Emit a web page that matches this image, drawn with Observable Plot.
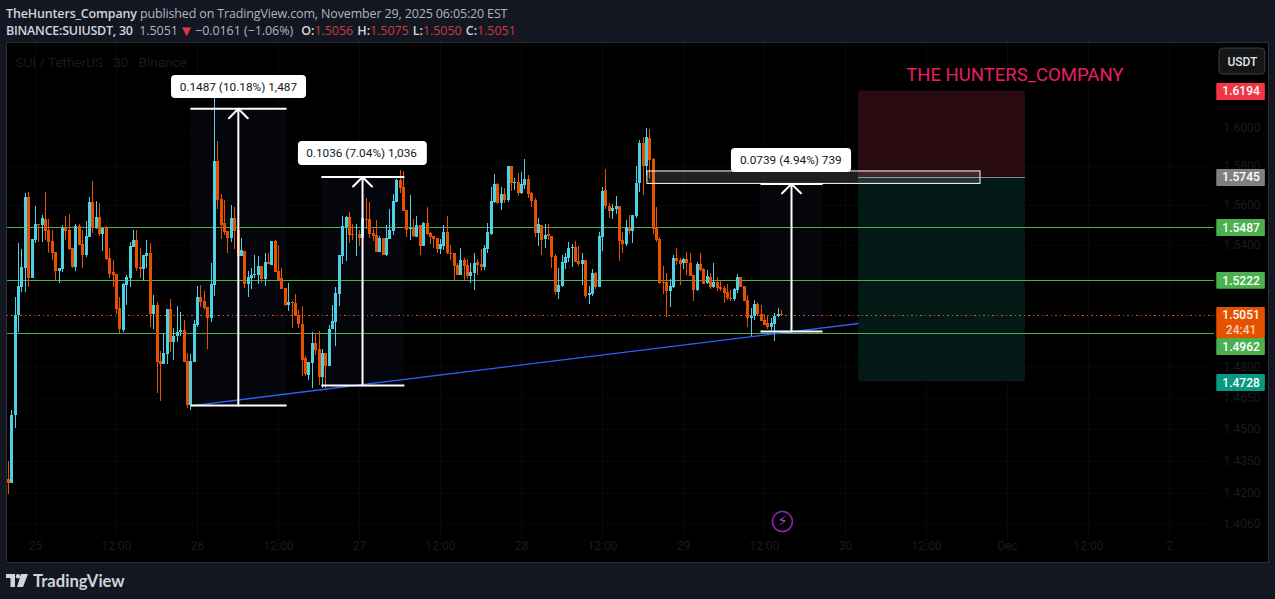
<!DOCTYPE html>
<html><head><meta charset="utf-8">
<script src="https://cdn.jsdelivr.net/npm/d3@7"></script>
<script src="https://cdn.jsdelivr.net/npm/@observablehq/plot@0.6"></script>
<style>
html,body{margin:0;padding:0;background:#131722;width:1275px;height:599px;overflow:hidden;font-family:Roboto,sans-serif}
#l1,#l2{position:absolute;left:6px;font:12.5px "Open Sans",sans-serif;color:#b2b5be;white-space:nowrap}
#l1{top:5px;letter-spacing:-0.15px}#l2{top:22px;letter-spacing:-0.06px}
b{font-weight:600;color:#d1d4dc}.r{color:#d0393f}.a{color:#e0383f;font-size:15px;line-height:12px;vertical-align:-1px;letter-spacing:-1px;margin-left:-2px;margin-right:-1px}
#panel{position:absolute;left:7px;top:43px;width:1261px;height:519px;background:#000;outline:1px solid #2a2e39}
#panel svg{display:block}
#foot{position:absolute;left:33px;top:571px;font:700 16.6px Lato,sans-serif;color:#d1d4dc}
#logo{position:absolute;left:6px;top:574px}
</style></head><body>
<div id="l1"><b>TheHunters_Company</b> published on TradingView.com, November 29, 2025 06:05:20 EST</div>
<div id="l2"><b style="letter-spacing:-.25px">BINANCE:SUIUSDT, 30</b>&nbsp; 1.5051 <span class="a">▼</span> −0.0161 (−1.06%) <b style="margin-left:5px">O:</b><span class="r">1.5056</span> <b style="margin-left:1px">H:</b><span class="r">1.5075</span> <b style="margin-left:1px">L:</b><span class="r">1.5050</span> <b style="margin-left:1px">C:</b><span class="r">1.5051</span></div>
<div id="panel"></div>
<svg id="logo" width="22" height="13" viewBox="0 0 22 13"><path fill="#d1d4dc" d="M0 0h9v13H4.5V4H0zM15 0h7l-5 13h-6z"/><circle cx="12" cy="2.2" r="2.2" fill="#d1d4dc"/></svg>
<div id="foot">TradingView</div>
<script>
// Candles, in ten-thousandths of a USDT, one per 30-minute bar.
const opens=[14265,14245,14565,15048,15188,15283,15643,15233,15423,15506,
15498,15528,15473,15418,15363,15268,15278,15483,15473,15383,
15288,15493,15403,15348,15438,15618,15483,15538,15453,15488,
15333,15263,15253,15083,14975,15198,15233,15388,15423,15288,
15278,15343,15358,15053,15098,14828,14813,14858,15078,14918,
14945,14966,14976,14828,14614,14823,15003,15138,15118,15088,
15033,15198,15825,15633,15508,15468,15433,15533,15473,15343,
15368,15203,15233,15248,15248,15293,15228,15313,15298,15418,
15268,15233,15183,15098,15113,15108,15048,15008,14838,14760,
14818,14913,14883,14748,14867,14801,14980,15018,15153,15343,
15488,15538,15453,15453,15453,15433,15528,15528,15458,15448,
15363,15433,15348,15428,15468,15618,15728,15693,15573,15478,
15483,15438,15498,15393,15508,15458,15443,15433,15378,15393,
15463,15358,15358,15298,15248,15323,15298,15243,15258,15313,
15303,15288,15378,15453,15618,15708,15613,15658,15628,15803,
15713,15718,15663,15703,15733,15663,15628,15458,15498,15428,
15453,15443,15343,15163,15193,15308,15333,15383,15388,15318,
15303,15323,15148,15153,15258,15188,15438,15678,15598,15568,
15578,15598,15423,15403,15488,15468,15543,15713,15920,15800,
15948,15835,15483,15428,15213,15213,15168,15188,15333,15323,
15308,15328,15308,15248,15173,15303,15278,15208,15238,15188,
15213,15188,15183,15163,15133,15128,15173,15238,15193,15123,
15033,15043,15103,15053,15028,15010,14990,15008,15043,15056];
const highs=[14350,14590,15140,15406,15378,15663,15668,15233,15598,15506,
15548,15668,15528,15473,15363,15283,15498,15543,15553,15383,
15506,15506,15473,15518,15643,15723,15623,15613,15483,15493,
15383,15323,15253,15138,15210,15248,15413,15473,15473,15383,
15348,15423,15408,15148,15113,14872,14962,15078,15128,14985,
15093,15063,15025,14863,14858,15028,15193,15198,15168,15088,
15308,16181,15930,15658,15628,15468,15603,15588,15473,15433,
15368,15268,15283,15348,15343,15293,15358,15358,15418,15423,
15398,15283,15183,15208,15118,15153,15073,15093,14848,14823,
14966,14961,14971,14882,14867,15003,15098,15188,15348,15543,
15543,15563,15503,15503,15473,15558,15638,15618,15478,15523,
15443,15433,15498,15578,15658,15733,15778,15773,15573,15653,
15528,15543,15498,15513,15588,15463,15443,15433,15428,15498,
15543,15398,15358,15308,15383,15333,15328,15308,15358,15328,
15378,15398,15508,15693,15758,15713,15693,15688,15803,15803,
15738,15763,15768,15838,15753,15668,15638,15533,15498,15503,
15503,15443,15353,15283,15348,15358,15413,15403,15418,15393,
15358,15323,15193,15278,15263,15463,15693,15785,15613,15608,
15648,15598,15463,15523,15548,15548,15800,15937,15953,16000,
15995,15840,15588,15438,15293,15258,15228,15348,15383,15333,
15333,15363,15358,15248,15313,15358,15283,15273,15258,15308,
15238,15223,15193,15203,15173,15183,15253,15238,15193,15148,
15083,15123,15113,15098,15053,15043,15033,15058,15083,15075];
const lows=[14195,14245,14507,14966,15165,15165,15190,15233,15406,15413,
15413,15423,15358,15323,15223,15210,15263,15423,15373,15283,
15268,15398,15283,15340,15438,15460,15478,15443,15368,15323,
15233,15190,15053,14961,14966,15098,15188,15386,15268,15233,
15223,15283,14990,14980,14670,14633,14810,14813,14868,14833,
14918,14945,14823,14600,14590,14823,14993,15090,15073,14882,
15018,15143,15578,15428,15448,15358,15413,15378,15343,15343,
15183,15138,15178,15233,15203,15208,15193,15303,15298,15263,
15223,15178,15093,15068,14988,15043,14988,14755,14755,14736,
14695,14853,14710,14695,14695,14801,14980,14898,15093,15303,
15318,15408,15423,15343,15393,15388,15478,15433,15418,15363,
15363,15348,15343,15428,15448,15618,15663,15568,15438,15423,
15438,15438,15348,15393,15448,15403,15383,15358,15353,15373,
15353,15323,15223,15248,15248,15223,15228,15208,15173,15248,
15268,15273,15358,15448,15613,15608,15573,15613,15618,15673,
15678,15648,15658,15683,15638,15588,15438,15393,15348,15383,
15423,15283,15148,15128,15188,15278,15313,15288,15313,15293,
15198,15133,15103,15143,15178,15188,15368,15578,15533,15528,
15553,15318,15358,15393,15453,15408,15533,15668,15653,15753,
15738,15453,15413,15203,15153,15038,15088,15183,15298,15198,
15278,15248,15243,15118,15168,15268,15203,15203,15178,15183,
15168,15168,15108,15123,15118,15118,15158,15188,15118,14990,
14947,15028,15043,15023,15000,14980,14975,14923,15038,15050];
const closes=[14245,14565,15048,15193,15288,15643,15233,15428,15506,15498,
15533,15468,15413,15358,15268,15283,15483,15468,15378,15288,
15493,15398,15348,15443,15618,15483,15538,15453,15483,15328,
15253,15248,15078,14980,15203,15238,15393,15423,15283,15278,
15348,15358,15053,15098,14823,14813,14863,15078,14918,14947,
14966,14976,14823,14614,14828,15008,15138,15113,15083,15033,
15203,15825,15628,15498,15463,15433,15533,15468,15343,15373,
15203,15238,15248,15253,15293,15228,15313,15303,15418,15263,
15223,15178,15098,15113,15108,15043,15008,14833,14765,14823,
14913,14878,14748,14867,14801,14980,15023,15158,15348,15493,
15538,15448,15448,15456,15433,15533,15523,15453,15443,15363,
15433,15348,15433,15473,15623,15728,15688,15568,15473,15483,
15443,15498,15393,15508,15453,15438,15428,15378,15403,15463,
15358,15353,15293,15248,15323,15293,15243,15263,15308,15298,
15288,15383,15463,15623,15708,15613,15658,15628,15803,15713,
15718,15663,15708,15733,15658,15623,15458,15503,15423,15448,
15443,15338,15163,15198,15313,15338,15383,15388,15313,15303,
15323,15143,15158,15258,15188,15443,15673,15593,15568,15583,
15598,15418,15403,15488,15468,15548,15713,15920,15800,15953,
15830,15478,15423,15208,15208,15168,15193,15333,15318,15303,
15328,15308,15243,15173,15303,15273,15203,15243,15188,15213,
15183,15178,15158,15133,15128,15178,15238,15188,15118,15033,
15043,15103,15053,15023,15000,14990,15013,15043,15053,15051];

// Axis ticks
const priceTicks=[1.6,1.58,1.56,1.54,1.48,1.465,1.45,1.435,1.42,1.406];
const timeTickBars=[8,32,56,80,104,128,152,176,200,224,248,272,296,320,344];
const timeTickLabels=["25","12:00","26","12:00","27","12:00","28","12:00","29","12:00","30","12:00","Dec","12:00","2"];

// Horizontal levels
const greenLevels=[1.5487,1.5222,1.4962];
const lastPrice=1.5051;

// Price-range tools
const toolLeft=[53.9,92.7,222.8], toolRight=[82.4,117.3,241.2], toolMid=[68.1,104.9,232];
const toolBottom=[1.4614,1.4710,1.4972], toolDelta=[0.1487,0.1036,0.0739];
const toolText=["0.1487 (10.18%) 1,487","0.1036 (7.04%) 1,036","0.0739 (4.94%) 739"];
const tagLeft=[48.3,85.9,214.2], tagRight=[88.3,124.1,249.8], tagMid=[68.1,104.6,231.8];
const tagTop=[1.6277,1.5930,1.5894], tagBottom=[1.6155,1.5806,1.5770], tagCenter=[1.6215,1.5868,1.5832];

// Short position tool and box
const posLeft=251.9, posRight=301.3, posStop=1.6194, posEntry=1.5745, posTarget=1.4728;
const trendBars=[54,251.9], trendPrices=[1.4613,1.5011];
const boxBars=[189.3,288], boxPrices=[1.5775,1.5711];

// Right-hand price badges
const badgeText=["1.6194","1.5745","1.5487","1.5222","1.5051","1.4962","1.4728"];
const badgeFill=["#f23645","#808080","#4caf50","#4caf50","#e65100","#4caf50","#089981"];
const badgeTop=[1.6235,1.5785,1.5529,1.5263,1.5089,1.4938,1.4763];
const badgeBottom=[1.6145,1.5698,1.5444,1.5180,1.4938,1.4855,1.4681];
const badgeTextPrice=[1.6194,1.5745,1.5487,1.5222,1.5051,1.4896,1.4722];

const t0=Date.UTC(2025,10,24,20);
const bar=i=>new Date(t0+i*18e5);
const candles=opens.map((o,i)=>({t:bar(i),o:o/1e4,h:highs[i]/1e4,l:lows[i]/1e4,c:closes[i]/1e4,col:closes[i]>=o?"#4dd0e1":"#e65100"}));
const gridEnd=bar(357.3), panelStart=bar(-0.3), badgeBar=bar(358), badgeEnd=bar(372.4), badgeMid=bar(365.2);
const tickDates=timeTickBars.map(bar);
const tickLabel=new Map(tickDates.map((d,i)=>[+d,timeTickLabels[i]]));
const idx=d3.range(3);
const dim="#181b22";

const chart=Plot.plot({
  width:1261,height:519,marginTop:0,marginRight:0,marginBottom:0,marginLeft:0,
  style:{background:"transparent",fontFamily:"Roboto,sans-serif",fontSize:"12px",overflow:"visible",color:dim},
  x:{type:"utc",domain:[bar(-0.296),bar(373.33)],range:[0,1261],label:null},
  y:{type:"log",domain:[1.3884,1.6448],range:[519,0],label:null},
  marks:[
    // faint grid
    Plot.ruleX(tickDates,{y1:1.3985,y2:1.6448,stroke:"#08090b"}),
    Plot.ruleY(priceTicks,{x1:panelStart,x2:gridEnd,stroke:"#08090b"}),
    // position zones
    Plot.rectY([0],{x1:bar(posLeft),x2:bar(posRight),y1:posEntry,y2:posStop,fill:"#290a0e"}),
    Plot.rectY([0],{x1:bar(posLeft),x2:bar(posRight),y1:posTarget,y2:posEntry,fill:"#031a17"}),
    // price-range shading
    Plot.rect(idx,{x1:i=>bar(toolLeft[i]),x2:i=>bar(toolRight[i]),y1:i=>toolBottom[i],y2:i=>toolBottom[i]+toolDelta[i],fill:"#04060b"}),
    // levels
    Plot.ruleY(greenLevels,{x1:panelStart,x2:gridEnd,stroke:"#4caf50",strokeWidth:1,shapeRendering:"crispEdges"}),
    Plot.ruleY([posEntry],{x1:bar(posLeft),x2:bar(posRight),stroke:"#8a8a8a",strokeWidth:1,shapeRendering:"crispEdges"}),
    Plot.ruleY([lastPrice],{x1:panelStart,x2:gridEnd,stroke:"#e65100",strokeWidth:1,strokeDasharray:"1.5 3",shapeRendering:"crispEdges"}),
    // candles
    Plot.ruleX(candles,{x:"t",y1:"l",y2:"h",stroke:"col",strokeWidth:1,shapeRendering:"crispEdges"}),
    Plot.ruleX(candles,{x:"t",y1:"o",y2:"c",stroke:"col",strokeWidth:3,shapeRendering:"crispEdges"}),
    // trend line
    Plot.link([0],{x1:bar(trendBars[0]),x2:bar(trendBars[1]),y1:trendPrices[0],y2:trendPrices[1],stroke:"#2962ff",strokeWidth:1.3}),
    // box
    Plot.rect([0],{x1:bar(boxBars[0]),x2:bar(boxBars[1]),y1:boxPrices[1],y2:boxPrices[0],fill:"#fff",fillOpacity:0.12,stroke:"#fff",strokeWidth:1}),
    // price-range tools
    Plot.link(idx,{x1:i=>bar(toolLeft[i]),x2:i=>bar(toolRight[i]),y1:i=>toolBottom[i],y2:i=>toolBottom[i],stroke:"#fff",strokeWidth:2}),
    Plot.link(idx,{x1:i=>bar(toolLeft[i]),x2:i=>bar(toolRight[i]),y1:i=>toolBottom[i]+toolDelta[i],y2:i=>toolBottom[i]+toolDelta[i],stroke:"#fff",strokeWidth:2}),
    Plot.arrow(idx,{x1:i=>bar(toolMid[i]),x2:i=>bar(toolMid[i]),y1:i=>toolBottom[i],y2:i=>toolBottom[i]+toolDelta[i],stroke:"#fff",strokeWidth:2,headAngle:90,headLength:10,insetEnd:0}),
    Plot.rect(idx,{x1:i=>bar(tagLeft[i]),x2:i=>bar(tagRight[i]),y1:i=>tagBottom[i],y2:i=>tagTop[i],fill:"#fff",rx:4}),
    Plot.text(idx,{x:i=>bar(tagMid[i]),y:i=>tagCenter[i],text:i=>toolText[i],fill:"#131722",fontSize:11.8}),
    // annotations
    Plot.text(["SUI / TetherUS · 30 · Binance"],{x:bar(2.1),y:1.6346,text:d=>d,textAnchor:"start",fill:dim,fontSize:13.5}),
    Plot.text(["THE HUNTERS_COMPANY"],{x:bar(266),y:1.6277,text:d=>d,textAnchor:"start",fill:"#e91e63",fontSize:18.5}),
    Plot.dot([0],{x:bar(229.3),y:1.4071,r:10,stroke:"#8e24aa",strokeWidth:1.5,fill:"none"}),
    Plot.text(["⚡"],{x:bar(229.3),y:1.4071,text:d=>d,fill:"#a844c8",fontSize:15,fontFamily:"DejaVu Sans"}),
    // axes
    Plot.axisY(priceTicks,{anchor:"right",tickSize:0,tickPadding:0,dx:-45,tickFormat:d3.format(".4f"),fill:dim,fontSize:12,label:null}),
    Plot.axisX(tickDates,{anchor:"bottom",tickSize:0,tickPadding:0,dy:-21,tickFormat:d=>tickLabel.get(+d),fill:dim,fontSize:12,label:null}),
    // badges
    Plot.rect(badgeText,{x1:badgeBar,x2:badgeEnd,y1:(d,i)=>badgeBottom[i],y2:(d,i)=>badgeTop[i],fill:(d,i)=>badgeFill[i],rx:1}),
    Plot.text(badgeText,{x:badgeMid,y:(d,i)=>badgeTextPrice[i],text:d=>d,fill:"#fff",fontSize:12,fontWeight:500}),
    Plot.text(["24:41"],{x:badgeMid,y:1.4976,text:d=>d,fill:"#fbcfae",fontSize:12,fontWeight:500}),
    // currency button
    Plot.rect(["USDT"],{x1:bar(358.8),x2:bar(372.4),y1:1.6282,y2:1.6421,fill:"#161616",stroke:"#3c3f47",strokeWidth:1,rx:4}),
    Plot.text(["USDT"],{x:bar(365.6),y:1.6350,text:d=>d,fill:"#e0e3eb",fontSize:12,fontWeight:500})
  ]
});
document.getElementById("panel").appendChild(chart);
</script>
</body></html>
